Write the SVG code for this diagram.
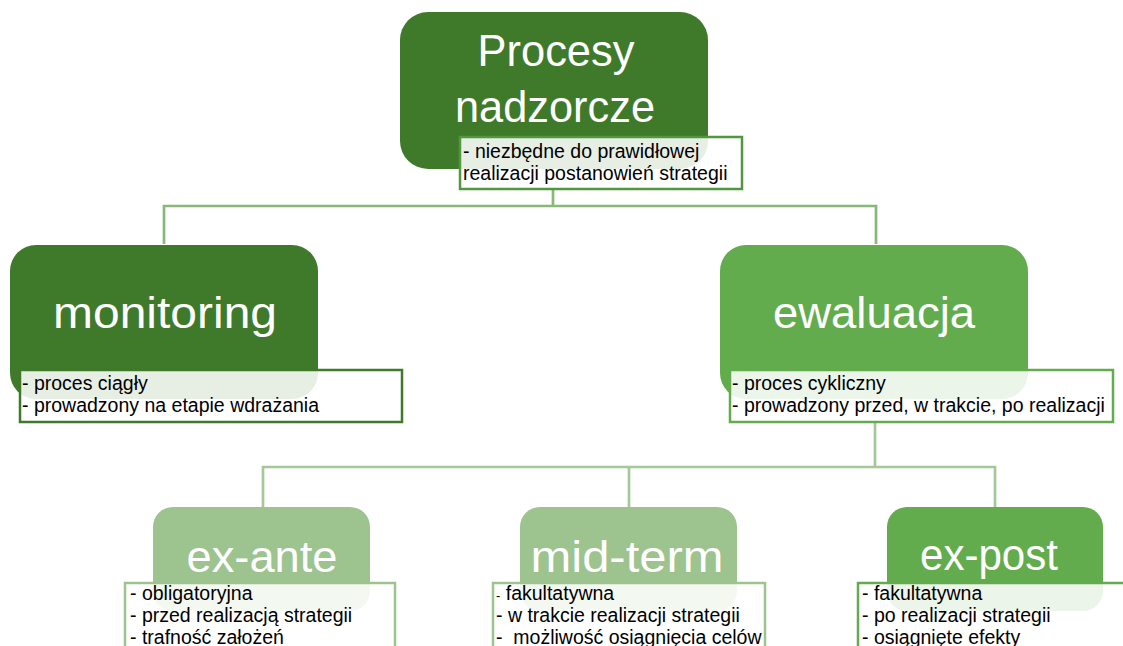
<svg xmlns="http://www.w3.org/2000/svg" width="1123" height="646" viewBox="0 0 1123 646">
<style>
.title{font-family:"Liberation Sans",Arial,sans-serif;font-size:45px;fill:#fff;text-anchor:middle}
.note{font-family:"Liberation Sans",Arial,sans-serif;font-size:19.5px;fill:#000}
.box{fill:#fff;fill-opacity:0.88;stroke-width:2.5}
.c1{fill:none;stroke:#88b979;stroke-width:2.7}
.c2{fill:none;stroke:#a5c89a;stroke-width:2.7}
</style>
<rect width="1123" height="646" fill="#fff"/>
<g id="connectors">
<path class="c1" d="M553 189V206M164 244V206H876V244"/>
<path class="c2" d="M875 422V467M263 507V467H995V507M629 467V507"/>
</g>
<g id="procesy">
<rect x="400" y="12" width="308" height="157" rx="28" fill="#3f7a2b"/>
<text class="title" x="556" y="66" textLength="157" lengthAdjust="spacingAndGlyphs">Procesy</text>
<text class="title" x="555" y="122" textLength="200" lengthAdjust="spacingAndGlyphs">nadzorcze</text>
<rect class="box" x="460" y="137" width="282" height="52" stroke="#529640"/>
<text class="note" x="463" y="158">- niezbędne do prawidłowej</text>
<text class="note" x="463" y="180">realizacji postanowień strategii</text>
</g>
<g id="monitoring">
<rect x="10" y="245" width="308" height="154" rx="26" fill="#3f7a2b"/>
<text class="title" x="165" y="328" textLength="224" lengthAdjust="spacingAndGlyphs">monitoring</text>
<rect class="box" x="20" y="370" width="382" height="52" stroke="#3f7a2b"/>
<text class="note" x="22" y="390">- proces ciągły</text>
<text class="note" x="22" y="412">- prowadzony na etapie wdrażania</text>
</g>
<g id="ewaluacja">
<rect x="720" y="245" width="308" height="154" rx="26" fill="#62ac4d"/>
<text class="title" x="874" y="328" textLength="202" lengthAdjust="spacingAndGlyphs">ewaluacja</text>
<rect class="box" x="730" y="370" width="383" height="52" stroke="#62ac4d"/>
<text class="note" x="732" y="390">- proces cykliczny</text>
<text class="note" x="732" y="412">- prowadzony przed, w trakcie, po realizacji</text>
</g>
<g id="ex-ante">
<rect x="153" y="507" width="217" height="104" rx="20" fill="#9dc38f"/>
<text class="title" x="262" y="572" textLength="151" lengthAdjust="spacingAndGlyphs">ex-ante</text>
<rect class="box" x="125" y="583" width="270" height="80" stroke="#9dc38f"/>
<text class="note" x="130" y="600">- obligatoryjna</text>
<text class="note" x="130" y="622">- przed realizacją strategii</text>
<text class="note" x="130" y="644">- trafność założeń</text>
</g>
<g id="mid-term">
<rect x="520" y="507" width="217" height="104" rx="20" fill="#9dc38f"/>
<text class="title" x="627" y="572" textLength="193" lengthAdjust="spacingAndGlyphs">mid-term</text>
<rect class="box" x="493" y="583" width="272" height="80" stroke="#9dc38f"/>
<text class="note" x="496" y="600"><tspan font-size="13">-</tspan> fakultatywna</text>
<text class="note" x="496" y="622">- w trakcie realizacji strategii</text>
<text class="note" x="496" y="644" xml:space="preserve">-  możliwość osiągnięcia celów</text>
</g>
<g id="ex-post">
<rect x="887" y="507" width="216" height="104" rx="20" fill="#62ac4d"/>
<text class="title" x="989" y="570" textLength="138" lengthAdjust="spacingAndGlyphs">ex-post</text>
<rect class="box" x="858" y="583" width="272" height="80" stroke="#62ac4d"/>
<text class="note" x="862" y="600">- fakultatywna</text>
<text class="note" x="862" y="622">- po realizacji strategii</text>
<text class="note" x="862" y="644">- osiągnięte efekty</text>
</g>
</svg>
